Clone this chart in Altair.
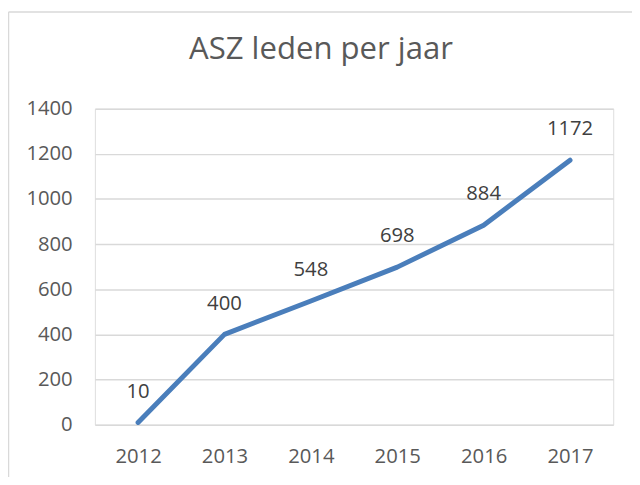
import altair as alt
import pandas as pd

years = ["2012", "2013", "2014", "2015", "2016", "2017"]
members = [10, 400, 548, 698, 884, 1172]
y_ticks = [0, 200, 400, 600, 800, 1000, 1200, 1400]
title_text = ["ASZ leden per jaar"]

df = pd.DataFrame({"jaar": years, "leden": members})

FONT = "Open Sans"
GREY = "#595959"
LINE = "#4a7ebb"

W, H = 525, 320

x_enc = alt.X("jaar:N", sort=years,
              scale=alt.Scale(type="point", padding=0.5),
              axis=alt.Axis(title=None, labelAngle=0, grid=False, ticks=False,
                            domain=False, labelFontSize=20.5, labelColor=GREY,
                            labelFont=FONT, labelPadding=22))
y_enc = alt.Y("leden:Q", scale=alt.Scale(domain=[0, 1400], nice=False),
              axis=alt.Axis(title=None, values=y_ticks, grid=True, gridColor="#d9d9d9",
                            gridWidth=1.5, ticks=False, domain=False, format="d",
                            labelFontSize=20.5, labelColor=GREY, labelFont=FONT,
                            labelPadding=23))

base = alt.Chart(df)

line = base.mark_line(color=LINE, strokeWidth=5, strokeCap="round", strokeJoin="round").encode(
    x=x_enc, y=y_enc)

labels = base.mark_text(font=FONT, fontSize=20.5, color="#404040", dy=-31,
                        baseline="middle", align="center").encode(
    x=alt.X("jaar:N", sort=years), y="leden:Q", text="leden:Q")

title = alt.Chart(pd.DataFrame({"t": title_text})).mark_text(
    font=FONT, fontSize=31.5, color=GREY, align="center", baseline="alphabetic").encode(
    x=alt.value(229), y=alt.value(-50), text="t:N")

frame_left = alt.Chart(pd.DataFrame({"k": [0]})).mark_rule(
    color="#d9d9d9", strokeWidth=1.5, clip=False).encode(
    x=alt.value(-87.5), y=alt.value(-98), y2=alt.value(H + 60))
frame_top = alt.Chart(pd.DataFrame({"k": [0]})).mark_rule(
    color="#d9d9d9", strokeWidth=1.5, clip=False).encode(
    x=alt.value(-87.5), x2=alt.value(W + 19), y=alt.value(-98))

chart = alt.layer(frame_left, frame_top, title, line, labels).properties(
    width=W, height=H,
    autosize=alt.AutoSizeParams(type="none"),
    padding={"left": 88, "top": 99, "right": 19, "bottom": 50},
).configure_view(stroke=None).configure(background="white")

chart.save("out.html", embed_options={"renderer": "svg", "actions": False})
